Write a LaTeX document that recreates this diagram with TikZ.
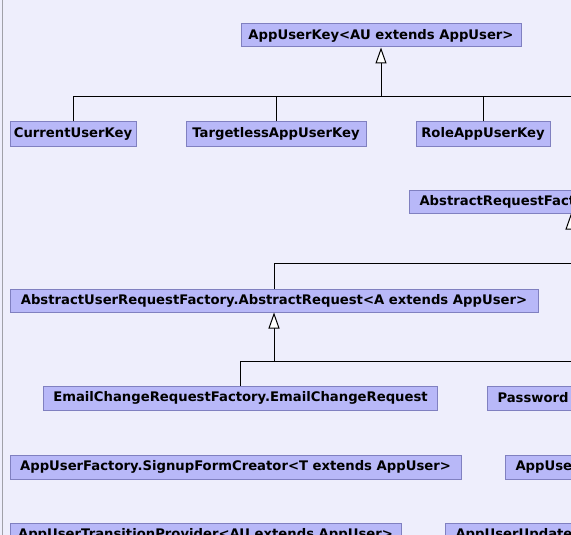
\documentclass[tikz,border=0pt]{standalone}
\usepackage{fontspec}
\setmainfont{DejaVu Sans}
\usetikzlibrary{arrows.meta}
\definecolor{bg}{HTML}{EEEEFC}
\definecolor{boxfill}{HTML}{B8B8F8}
\definecolor{boxline}{HTML}{8080C0}
\definecolor{edgegray}{HTML}{A0A0A8}
\begin{document}
\begin{tikzpicture}[x=1pt,y=-1pt,
  cls/.style={draw=boxline, fill=boxfill, line width=1pt, inner sep=0pt,
    font=\fontsize{13.2}{15}\selectfont\bfseries, text=black},
  clsL/.style={cls, anchor=west, align=left, inner xsep=10pt, inner ysep=0pt,
    text width=300pt},
  inh/.style={-{Triangle[length=16pt,width=11pt,fill=white]}, line width=1pt},
  link/.style={line width=1pt}]
\useasboundingbox (0,0) rectangle (571,535);
\clip (0,0) rectangle (571,535);
\fill[bg] (0,0) rectangle (571,535);
\draw[edgegray, line width=1pt] (2,0) -- (2,535);

% nodes
\node[cls, minimum width=280pt, minimum height=23pt] (key) at (381,35.5) {AppUserKey<AU extends AppUser>};
\node[cls, minimum width=126pt, minimum height=24pt] (cur) at (73,134) {CurrentUserKey};
\node[cls, minimum width=180pt, minimum height=24pt] (targ) at (276,134) {TargetlessAppUserKey};
\node[cls, minimum width=134pt, minimum height=24pt] (role) at (483,134) {RoleAppUserKey};
\node[clsL, minimum height=23pt] (arf) at (409,202) {AbstractRequestFact};
\node[cls, minimum width=528pt, minimum height=23pt] (aurf) at (274,300.5) {AbstractUserRequestFactory.AbstractRequest<A extends AppUser>};
\node[cls, minimum width=394pt, minimum height=24pt] (email) at (240.5,398) {EmailChangeRequestFactory.EmailChangeRequest};
\node[clsL, minimum height=24pt] (pwd) at (487,398) {Password};
\node[cls, minimum width=451pt, minimum height=24pt] (signup) at (235.5,467) {AppUserFactory.SignupFormCreator<T extends AppUser>};
\node[clsL, minimum height=24pt] (appuse) at (505,467) {AppUse};
\node[cls, minimum width=391pt, minimum height=24pt] (trans) at (205.5,535) {AppUserTransitionProvider<AU extends AppUser>};
\node[clsL, minimum height=24pt] (update) at (445,535) {AppUserUpdate};

% connectors
\coordinate (busA) at (381,97);
\coordinate (busAR) at (580,97);
\draw[link] (cur.north) -- (cur.north |- busA) -- (busAR);
\draw[link] (targ.north) -- (targ.north |- busA);
\draw[link] (role.north) -- (role.north |- busA);
\draw[inh] (busA) -- (key.south);

\coordinate (arfstem) at (571,213.5);
\coordinate (busB) at (274,263);
\coordinate (busBR) at (580,263);
\draw[inh] (571,263) -- (arfstem);
\draw[link] (aurf.north) -- (busB) -- (busBR);

\coordinate (busC) at (274,361);
\coordinate (busCR) at (580,361);
\draw[link] (email.north) -- (email.north |- busC) -- (busCR);
\draw[inh] (busC) -- (aurf.south);
\end{tikzpicture}
\end{document}
